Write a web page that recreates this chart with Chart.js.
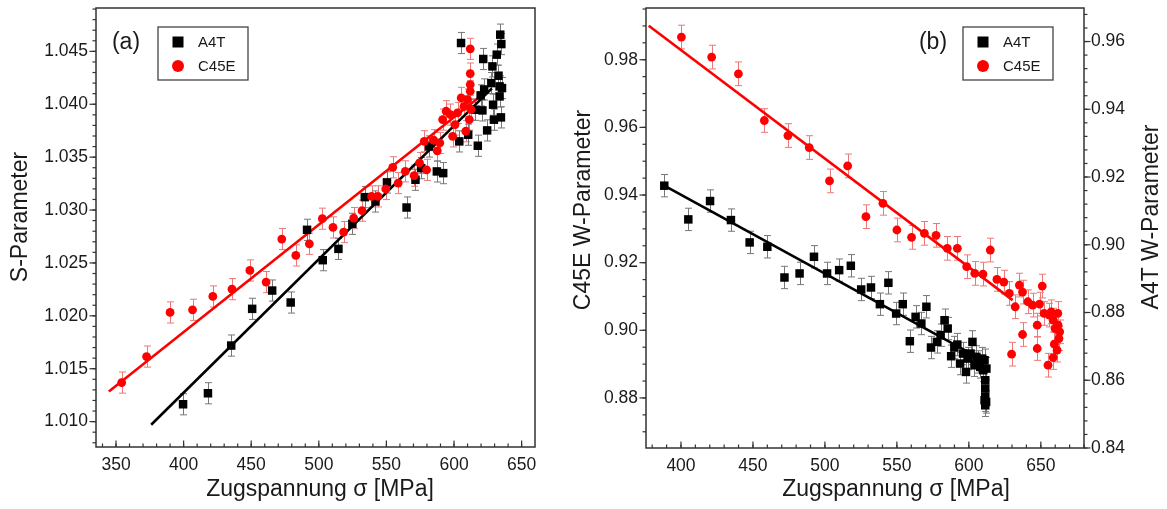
<!DOCTYPE html>
<html><head><meta charset="utf-8">
<script src="https://cdn.jsdelivr.net/npm/chart.js@4.4.0/dist/chart.umd.min.js"></script>
<style>
html,body{margin:0;padding:0;background:#fff;width:1167px;height:509px;overflow:hidden}
.w{position:absolute;top:0}
</style></head><body>
<div class="w" style="left:0;width:580px;height:509px"><canvas id="c1" width="580" height="509"></canvas></div>
<div class="w" style="left:560px;width:607px;height:509px"><canvas id="c2" width="607" height="509"></canvas></div>
<script>
// ---------- Panel (a): S-Parameter ----------
const A4T_A_X = [399.6,418.0,435.2,450.7,465.5,479.2,491.3,502.9,514.5,524.8,534.0,541.9,550.4,564.9,571.5,575.7,587.3,592.0,581.5,605.2,603.9,610.5,617.6,619.7,621.6,621.0,624.5,627.6,628.4,628.9,629.5,631.6,632.9,633.7,633.7,634.2,635.0,634.7,635.5,615.7,622.3];
const A4T_A_S = [1.01164,1.01268,1.01719,1.02066,1.02239,1.02126,1.02813,1.02526,1.02633,1.02870,1.03122,1.03081,1.03261,1.03024,1.03286,1.03396,1.03365,1.03349,1.03601,1.04579,1.03649,1.03712,1.03608,1.04084,1.04428,1.03942,1.03753,1.04200,1.04358,1.03996,1.03854,1.04469,1.04270,1.04169,1.04074,1.04658,1.04569,1.03876,1.04153,1.03948,1.04140];
const C45E_A_X = [354.2,372.6,390.0,406.6,421.6,435.8,449.0,461.0,472.6,483.0,493.0,502.6,510.5,518.4,525.8,532.0,539.0,543.7,549.5,554.7,558.7,564.0,570.5,574.5,578.0,579.7,585.0,587.6,589.5,591.6,594.2,597.4,599.0,600.8,602.6,605.3,607.4,608.7,610.0,611.3,612.0,612.0,612.0,612.0,612.6];
const C45E_A_S = [1.01369,1.01615,1.02032,1.02057,1.02183,1.02252,1.02429,1.02319,1.02726,1.02571,1.02681,1.02918,1.02836,1.02792,1.02924,1.02994,1.03129,1.03129,1.03199,1.03404,1.03255,1.03366,1.03325,1.03445,1.03650,1.03380,1.03660,1.03560,1.03634,1.03855,1.03934,1.03902,1.03697,1.03808,1.03918,1.04060,1.03980,1.03745,1.04044,1.03855,1.04524,1.04290,1.04186,1.04123,1.03950];
const FIT_A4T_A_X = [376, 628];
const FIT_A4T_A_S = [1.0097, 1.0415];
const FIT_C45E_A_X = [344.7, 620];
const FIT_C45E_A_S = [1.01284, 1.0408];
const ERR_A = 0.001;
const TICKS_A_X = [350,400,450,500,550,600,650];
const TICKS_A_Y = [1.010,1.015,1.020,1.025,1.030,1.035,1.040,1.045];

// ---------- Panel (b): W-Parameter ----------
const C45E_B_X = [400.3,421.3,439.9,457.9,474.3,489.1,503.2,515.8,528.5,540.3,550.0,560.2,569.1,577.2,585.0,592.0,598.5,604.1,609.8,614.9,619.5,624.3,628.1,629.7,632.2,635.1,637.3,637.3,641.0,644.3,647.5,647.5,649.1,651.0,652.3,655.0,655.9,657.2,658.6,658.6,659.9,661.3,661.8,662.6,663.1,662.0,659.4];
const C45E_B_W = [0.98671,0.98079,0.97585,0.96203,0.95759,0.95404,0.94417,0.94861,0.93360,0.93755,0.92966,0.92748,0.92867,0.92808,0.92423,0.92423,0.91880,0.91682,0.91662,0.92374,0.91505,0.91426,0.91090,0.89294,0.90696,0.91337,0.91130,0.89876,0.90844,0.90745,0.90153,0.89462,0.90775,0.91308,0.90498,0.88968,0.90449,0.90547,0.90300,0.89195,0.90054,0.89413,0.90498,0.89757,0.89955,0.90152,0.89590];
const A4T_B_X = [388.4,405.1,420.2,434.7,447.7,460.0,471.9,482.4,492.4,501.5,509.9,518.0,525.2,532.0,538.2,544.1,549.5,554.1,559.0,563.0,567.0,570.5,573.7,577.8,580.4,583.1,585.3,587.7,589.9,592.0,593.9,596.0,598.0,599.3,601.2,602.5,603.9,605.2,606.5,607.9,609.3,610.0,610.9,611.4,611.4,611.4,612.0,611.4,610.9,612.2];
const A4T_B_W = [0.91744,0.90749,0.91291,0.90729,0.90069,0.89941,0.89034,0.89153,0.89645,0.89153,0.89251,0.89380,0.88680,0.88739,0.88246,0.88877,0.87970,0.88246,0.87153,0.87872,0.87675,0.88170,0.86966,0.87133,0.87330,0.87773,0.87527,0.86710,0.86966,0.87054,0.86493,0.86788,0.86246,0.86640,0.86788,0.87133,0.86443,0.86690,0.86542,0.86394,0.86640,0.86296,0.86591,0.86000,0.85754,0.85507,0.85360,0.85261,0.85410,0.86345];
const FIT_C45E_B_X = [377.6, 630.4];
const FIT_C45E_B_W = [0.99007, 0.90892];
const FIT_A4T_B_X = [388.4, 606];
const FIT_A4T_B_W = [0.91744, 0.8668];
const ERR_B_C45E = 0.0035;
const ERR_B_A4T = 0.0033;
const TICKS_B_X = [400,450,500,550,600,650];
const TICKS_B_YL = [0.88,0.90,0.92,0.94,0.96,0.98];
const TICKS_B_YR = [0.84,0.86,0.88,0.90,0.92,0.94,0.96];

const FONT = '"Liberation Sans", Arial, sans-serif';
const BLACK = '#000000', RED = '#ff0000';
const pts = (xs, ys) => xs.map((x, i) => ({x, y: ys[i]}));

function minorVals(min, max, step){
  const out = [];
  const start = Math.ceil(min/step - 1e-9);
  for (let k = start; k*step <= max + 1e-9; k++) out.push(+(k*step).toFixed(6));
  return out;
}

const errorBars = {
  id: 'errorBars',
  beforeDatasetsDraw(chart){
    const ctx = chart.ctx;
    chart.data.datasets.forEach((ds, i) => {
      if (!ds.errorBar) return;
      const meta = chart.getDatasetMeta(i);
      const xs = chart.scales[meta.xAxisID], ys = chart.scales[meta.yAxisID];
      ctx.save();
      ctx.strokeStyle = ds.errorColor; ctx.lineWidth = 1;
      ds.data.forEach(p => {
        const x = Math.round(xs.getPixelForValue(p.x)) + 0.5;
        const y1 = ys.getPixelForValue(p.y + ds.errorBar);
        const y2 = ys.getPixelForValue(p.y - ds.errorBar);
        ctx.beginPath();
        ctx.moveTo(x, y1); ctx.lineTo(x, y2);
        ctx.moveTo(x-3.5, y1); ctx.lineTo(x+3.5, y1);
        ctx.moveTo(x-3.5, y2); ctx.lineTo(x+3.5, y2);
        ctx.stroke();
      });
      ctx.restore();
    });
  }
};

const deco = {
  id: 'deco',
  afterDraw(chart, args, o){
    const ctx = chart.ctx, a = chart.chartArea;
    ctx.save();
    ctx.strokeStyle = '#333'; ctx.lineWidth = 1.5;
    ctx.strokeRect(a.left, a.top, a.right - a.left, a.bottom - a.top);
    ctx.lineWidth = 1.2;
    o.ticks.forEach(t => {
      const s = chart.scales[t.scale];
      const draw = (v, len) => {
        const p = s.getPixelForValue(v);
        ctx.beginPath();
        if (t.side === 'bottom'){ ctx.moveTo(p, a.bottom); ctx.lineTo(p, a.bottom - len); }
        else if (t.side === 'left'){ ctx.moveTo(a.left, p); ctx.lineTo(a.left - len, p); }
        else { ctx.moveTo(a.right, p); ctx.lineTo(a.right + len, p); }
        ctx.stroke();
      };
      minorVals(s.min, s.max, t.minor).forEach(v => draw(v, 3.5));
      t.major.forEach(v => draw(v, 6.5));
    });
    ctx.fillStyle = '#1a1a1a';
    ctx.textAlign = 'center'; ctx.textBaseline = 'middle';
    o.titles.forEach(t => {
      ctx.save();
      ctx.font = '23px ' + FONT;
      ctx.translate(t.x, t.y); ctx.rotate(t.rot || 0);
      ctx.fillText(t.text, 0, 0);
      ctx.restore();
    });
    ctx.font = '23px ' + FONT;
    ctx.fillText(o.panel.text, o.panel.x, o.panel.y);
    const L = o.legend;
    ctx.strokeStyle = '#444'; ctx.lineWidth = 1.3;
    ctx.strokeRect(L.x, L.y, L.w, L.h);
    ctx.font = '15px ' + FONT; ctx.textAlign = 'left';
    L.items.forEach((it, i) => {
      const cy = L.y + 15 + i * 24, mx = L.x + 20;
      ctx.fillStyle = it.color;
      if (it.shape === 'rect') ctx.fillRect(mx - 5.5, cy - 5.5, 11, 11);
      else { ctx.beginPath(); ctx.arc(mx, cy, 6, 0, Math.PI*2); ctx.fill(); }
      ctx.fillStyle = '#1a1a1a';
      ctx.fillText(it.text, L.x + 40, cy + 1);
    });
    ctx.restore();
  }
};

const tickFont = {family: FONT, size: 17.5};
const noPad = s => { s.paddingTop = 0; s.paddingBottom = 0; s.paddingLeft = 0; s.paddingRight = 0; };
function xScale(min, max, ticks, h){
  return {type: 'linear', min, max,
    afterBuildTicks: s => { s.ticks = ticks.map(v => ({value: v})); },
    afterFit: s => { s.height = h; noPad(s); },
    grid: {display: false, drawTicks: false}, border: {display: false},
    ticks: {font: tickFont, color: '#1a1a1a', padding: 8, maxRotation: 0, callback: v => String(v)}};
}
function yScale(min, max, ticks, w, dec, pos){
  return {type: 'linear', position: pos, min, max,
    afterBuildTicks: s => { s.ticks = ticks.map(v => ({value: v})); },
    afterFit: s => { s.width = w; noPad(s); },
    grid: {display: false, drawTicks: false}, border: {display: false},
    ticks: {font: tickFont, color: '#1a1a1a', padding: pos === 'right' ? 7 : 8, callback: v => Number(v).toFixed(dec)}};
}
const scatterDs = (label, data, color, shape, r, err, errColor, yAxisID) => ({
  type: 'scatter', label, data, yAxisID: yAxisID || 'y',
  pointStyle: shape, pointRadius: r, pointBackgroundColor: color, pointBorderWidth: 0, borderColor: color,
  errorBar: err, errorColor: errColor, order: 1
});
const lineDs = (data, color, yAxisID) => ({
  type: 'line', data, yAxisID: yAxisID || 'y', borderColor: color, borderWidth: 2.6,
  pointRadius: 0, fill: false, tension: 0, order: 2
});

new Chart(document.getElementById('c1'), {
  data: {datasets: [
    lineDs(pts(FIT_C45E_A_X, FIT_C45E_A_S), RED),
    lineDs(pts(FIT_A4T_A_X, FIT_A4T_A_S), BLACK),
    scatterDs('C45E', pts(C45E_A_X, C45E_A_S), RED, 'circle', 4.4, ERR_A, '#ee7777'),
    scatterDs('A4T', pts(A4T_A_X, A4T_A_S), BLACK, 'rect', 6, ERR_A, '#777777')
  ]},
  options: {
    responsive: false, animation: false, devicePixelRatio: 1,
    layout: {padding: {top: 8, right: 45, bottom: 0, left: 0}, autoPadding: false},
    scales: {
      x: xScale(335.2, 659.9, TICKS_A_X, 62),
      y: yScale(1.0076, 1.0491, TICKS_A_Y, 96, 3, 'left')
    },
    plugins: {
      legend: {display: false}, tooltip: {enabled: false},
      deco: {
        ticks: [{scale: 'x', side: 'bottom', major: TICKS_A_X, minor: 10},
                {scale: 'y', side: 'left', major: TICKS_A_Y, minor: 0.001}],
        titles: [{text: 'Zugspannung σ [MPa]', x: 320, y: 490},
                 {text: 'S-Parameter', x: 21, y: 217, rot: -Math.PI/2}],
        panel: {text: '(a)', x: 126, y: 43},
        legend: {x: 158, y: 27, w: 90, h: 53, items: [
          {text: 'A4T', color: BLACK, shape: 'rect'}, {text: 'C45E', color: RED, shape: 'circle'}]}
      }
    }
  },
  plugins: [errorBars, deco]
});

new Chart(document.getElementById('c2'), {
  data: {datasets: [
    lineDs(pts(FIT_C45E_B_X, FIT_C45E_B_W), RED, 'y'),
    lineDs(pts(FIT_A4T_B_X, FIT_A4T_B_W), BLACK, 'y2'),
    scatterDs('C45E', pts(C45E_B_X, C45E_B_W), RED, 'circle', 4.4, ERR_B_C45E, '#ee7777', 'y'),
    scatterDs('A4T', pts(A4T_B_X, A4T_B_W), BLACK, 'rect', 6, ERR_B_A4T, '#777777', 'y2')
  ]},
  options: {
    responsive: false, animation: false, devicePixelRatio: 1,
    layout: {padding: {top: 8, right: 0, bottom: 0, left: 0}, autoPadding: false},
    scales: {
      x: xScale(375.7, 680, TICKS_B_X, 61),
      y: yScale(0.8652, 0.9953, TICKS_B_YL, 86, 2, 'left'),
      y2: yScale(0.84, 0.9699, TICKS_B_YR, 83, 2, 'right')
    },
    plugins: {
      legend: {display: false}, tooltip: {enabled: false},
      deco: {
        ticks: [{scale: 'x', side: 'bottom', major: TICKS_B_X, minor: 10},
                {scale: 'y', side: 'left', major: TICKS_B_YL, minor: 0.005},
                {scale: 'y2', side: 'right', major: TICKS_B_YR, minor: 0.004}],
        titles: [{text: 'Zugspannung σ [MPa]', x: 336, y: 490},
                 {text: 'C45E W-Parameter', x: 24, y: 210, rot: -Math.PI/2},
                 {text: 'A4T W-Parameter', x: 592, y: 217, rot: -Math.PI/2}],
        panel: {text: '(b)', x: 373, y: 43},
        legend: {x: 403, y: 27, w: 90, h: 53, items: [
          {text: 'A4T', color: BLACK, shape: 'rect'}, {text: 'C45E', color: RED, shape: 'circle'}]}
      }
    }
  },
  plugins: [errorBars, deco]
});
</script>
</body></html>
